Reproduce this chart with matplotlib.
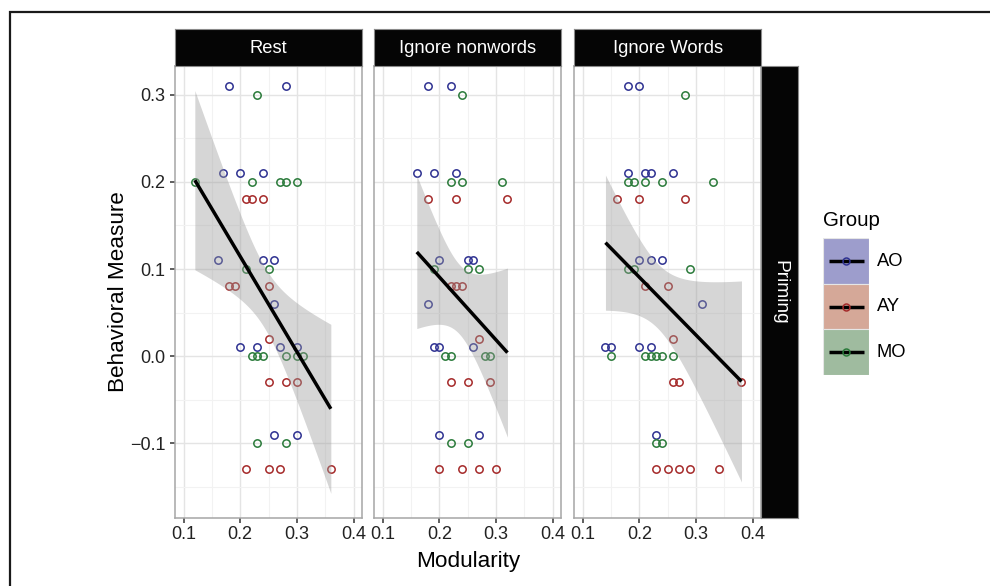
import numpy as np
import matplotlib
matplotlib.use('Agg')
import matplotlib.pyplot as plt
from matplotlib.patches import Rectangle

plt.rcParams['font.family'] = ['Liberation Sans', 'DejaVu Sans']

panels = ['Rest', 'Ignore nonwords', 'Ignore Words']
groups = ['AO', 'AY', 'MO']
colors = {'AO': '#2e3191', 'AY': '#a52a2a', 'MO': '#2a7a3a'}
key_fill = {'AO': '#9d9dcc', 'AY': '#d5a898', 'MO': '#9fbb9f'}

# Rest
rest_ao_x = [0.18, 0.28, 0.17, 0.20, 0.24, 0.16, 0.24, 0.26, 0.26, 0.20, 0.23, 0.27, 0.30, 0.26, 0.30]
rest_ao_y = [0.31, 0.31, 0.21, 0.21, 0.21, 0.11, 0.11, 0.11, 0.06, 0.01, 0.01, 0.01, 0.01, -0.09, -0.09]
rest_ay_x = [0.21, 0.22, 0.24, 0.18, 0.19, 0.25, 0.25, 0.25, 0.28, 0.30, 0.21, 0.25, 0.27, 0.36]
rest_ay_y = [0.18, 0.18, 0.18, 0.08, 0.08, 0.08, 0.02, -0.03, -0.03, -0.03, -0.13, -0.13, -0.13, -0.13]
rest_mo_x = [0.23, 0.12, 0.22, 0.27, 0.28, 0.30, 0.21, 0.25, 0.22, 0.23, 0.24, 0.28, 0.30, 0.31, 0.23, 0.28]
rest_mo_y = [0.30, 0.20, 0.20, 0.20, 0.20, 0.20, 0.10, 0.10, 0.0, 0.0, 0.0, 0.0, 0.0, 0.0, -0.10, -0.10]

# Ignore nonwords
nonw_ao_x = [0.18, 0.22, 0.16, 0.19, 0.23, 0.20, 0.25, 0.26, 0.18, 0.19, 0.20, 0.26, 0.20, 0.27]
nonw_ao_y = [0.31, 0.31, 0.21, 0.21, 0.21, 0.11, 0.11, 0.11, 0.06, 0.01, 0.01, 0.01, -0.09, -0.09]
nonw_ay_x = [0.18, 0.23, 0.32, 0.22, 0.23, 0.24, 0.27, 0.22, 0.25, 0.29, 0.20, 0.24, 0.27, 0.30]
nonw_ay_y = [0.18, 0.18, 0.18, 0.08, 0.08, 0.08, 0.02, -0.03, -0.03, -0.03, -0.13, -0.13, -0.13, -0.13]
nonw_mo_x = [0.24, 0.22, 0.24, 0.31, 0.19, 0.25, 0.27, 0.21, 0.22, 0.28, 0.29, 0.22, 0.25]
nonw_mo_y = [0.30, 0.20, 0.20, 0.20, 0.10, 0.10, 0.10, 0.0, 0.0, 0.0, 0.0, -0.10, -0.10]

# Ignore Words
word_ao_x = [0.18, 0.20, 0.18, 0.21, 0.22, 0.26, 0.20, 0.22, 0.24, 0.31, 0.14, 0.15, 0.20, 0.22, 0.23]
word_ao_y = [0.31, 0.31, 0.21, 0.21, 0.21, 0.21, 0.11, 0.11, 0.11, 0.06, 0.01, 0.01, 0.01, 0.01, -0.09]
word_ay_x = [0.16, 0.20, 0.28, 0.21, 0.25, 0.26, 0.26, 0.27, 0.38, 0.23, 0.25, 0.27, 0.29, 0.34]
word_ay_y = [0.18, 0.18, 0.18, 0.08, 0.08, 0.02, -0.03, -0.03, -0.03, -0.13, -0.13, -0.13, -0.13, -0.13]
word_mo_x = [0.28, 0.18, 0.19, 0.21, 0.24, 0.33, 0.18, 0.19, 0.29, 0.15, 0.21, 0.22, 0.23, 0.24, 0.26, 0.23, 0.24]
word_mo_y = [0.30, 0.20, 0.20, 0.20, 0.20, 0.20, 0.10, 0.10, 0.10, 0.0, 0.0, 0.0, 0.0, 0.0, 0.0, -0.10, -0.10]

data = [
    [(rest_ao_x, rest_ao_y), (rest_ay_x, rest_ay_y), (rest_mo_x, rest_mo_y)],
    [(nonw_ao_x, nonw_ao_y), (nonw_ay_x, nonw_ay_y), (nonw_mo_x, nonw_mo_y)],
    [(word_ao_x, word_ao_y), (word_ay_x, word_ay_y), (word_mo_x, word_mo_y)],
]

x_ticks = [0.1, 0.2, 0.3, 0.4]
y_ticks = [-0.1, 0.0, 0.1, 0.2, 0.3]


def t_quant(df):
    # 97.5% quantile of t, Cornish-Fisher expansion
    z = 1.959964
    return (z + (z**3 + z) / (4 * df) + (5 * z**5 + 16 * z**3 + 3 * z) / (96 * df**2)
            + (3 * z**7 + 19 * z**5 + 17 * z**3 - 15 * z) / (384 * df**3))


def lm_band(x, y):
    x = np.asarray(x); y = np.asarray(y)
    n = len(x)
    b, a = np.polyfit(x, y, 1)
    res = y - (a + b * x)
    s = np.sqrt(np.sum(res**2) / (n - 2))
    xm = x.mean(); sxx = np.sum((x - xm)**2)
    xs = np.linspace(x.min(), x.max(), 80)
    fit = a + b * xs
    se = s * np.sqrt(1.0 / n + (xs - xm)**2 / sxx)
    t = t_quant(n - 2)
    return xs, fit, fit - t * se, fit + t * se


def fmt(v):
    return ('%.1f' % v).replace('-', '\u2212')


W, H = 990, 586
fig = plt.figure(figsize=(W / 100, H / 100), dpi=100)

def fx(px):
    return px / W

def fy(py):
    return 1 - py / H

# outer frame (cropped on right and bottom)
fig.patches.append(Rectangle((fx(10), -0.1), 2, fy(12) + 0.1, transform=fig.transFigure,
                             fill=False, ec='#1a1a1a', lw=1.6))

lefts = [175, 374.3, 574.3]
pw = 187
top, bot = 66, 518.3

for i, name in enumerate(panels):
    ax = fig.add_axes([fx(lefts[i]), fy(bot), fx(pw), (bot - top) / H])
    allx, ally = [], []
    for g, (xs, ys) in zip(groups, data[i]):
        ax.plot(xs, ys, 'o', ms=5.3, mfc='none', mec=colors[g], mew=1.1, zorder=3)
        allx += xs; ally += ys
    xs, fit, lo, hi = lm_band(allx, ally)
    ax.fill_between(xs, lo, hi, color='#999999', alpha=0.4, lw=0, zorder=4)
    ax.plot(xs, fit, color='black', lw=2.5, zorder=5, solid_capstyle='butt')

    ax.set_xlim(0.085, 0.415)
    ax.set_ylim(-0.186, 0.333)
    ax.set_xticks(x_ticks)
    ax.set_xticklabels([fmt(v) for v in x_ticks])
    ax.set_xticks([0.15, 0.25, 0.35], minor=True)
    ax.set_yticks(y_ticks)
    ax.set_yticklabels([fmt(v) for v in y_ticks])
    ax.set_yticks([-0.15, -0.05, 0.05, 0.15, 0.25], minor=True)
    ax.grid(which='major', color='#e4e4e4', lw=1.0, zorder=0)
    ax.grid(which='minor', color='#f2f2f2', lw=0.8, zorder=0)
    ax.set_axisbelow(True)
    ax.tick_params(which='minor', length=0)
    ax.tick_params(which='major', length=3.6, width=1.1, color='#333333',
                   labelsize=13, labelcolor='#222222', pad=2.2)
    if i > 0:
        ax.tick_params(axis='y', left=False, labelleft=False)
    else:
        ax.tick_params(axis='y', pad=3.2)
    for sp in ax.spines.values():
        sp.set_color('#a6a6a6'); sp.set_linewidth(1.1)

    # strip on top
    st = fig.add_axes([fx(lefts[i]), fy(65.5), fx(pw), (65.5 - 29.3) / H])
    st.set_facecolor('#050505')
    st.set_xticks([]); st.set_yticks([])
    for sp in st.spines.values():
        sp.set_color('#8a8a8a'); sp.set_linewidth(0.8)
    st.text(0.5, 0.47, name, color='white', fontsize=13.2, ha='center', va='center',
            transform=st.transAxes)

# right strip
rs = fig.add_axes([fx(761.3), fy(bot), fx(37), (bot - top) / H])
rs.set_facecolor('#050505')
rs.set_xticks([]); rs.set_yticks([])
for sp in rs.spines.values():
    sp.set_color('#8a8a8a'); sp.set_linewidth(0.8)
rs.text(0.5, 0.5, 'Priming', color='white', fontsize=13.8, rotation=270,
        ha='center', va='center', transform=rs.transAxes)

fig.text(fx(468), fy(562), 'Modularity', fontsize=16.2, ha='center', va='center')
fig.text(fx(118), fy(292), 'Behavioral Measure', fontsize=16.2, rotation=90,
         ha='center', va='center')

# legend
lg = fig.add_axes([fx(823.3), fy(375), fx(46), (375 - 238.3) / H])
lg.set_xlim(0, 1); lg.set_ylim(0, 3)
lg.axis('off')
for k, g in enumerate(groups):
    yb = 2 - k
    lg.add_patch(Rectangle((0, yb), 1, 1, fc=key_fill[g], ec='#e6e6e6', lw=0.8))
    lg.plot([0.12, 0.88], [yb + 0.5, yb + 0.5], color='black', lw=2.5, solid_capstyle='butt')
    lg.plot([0.5], [yb + 0.5], 'o', ms=5, mfc='none', mec=colors[g], mew=1.1)
    fig.text(fx(877), fy(238.3 + 45.6 * k + 22.8), g, fontsize=13.2, ha='left', va='center')
fig.text(fx(823), fy(221), 'Group', fontsize=14.8, ha='left', va='center')

fig.savefig('out.png', dpi=100)
